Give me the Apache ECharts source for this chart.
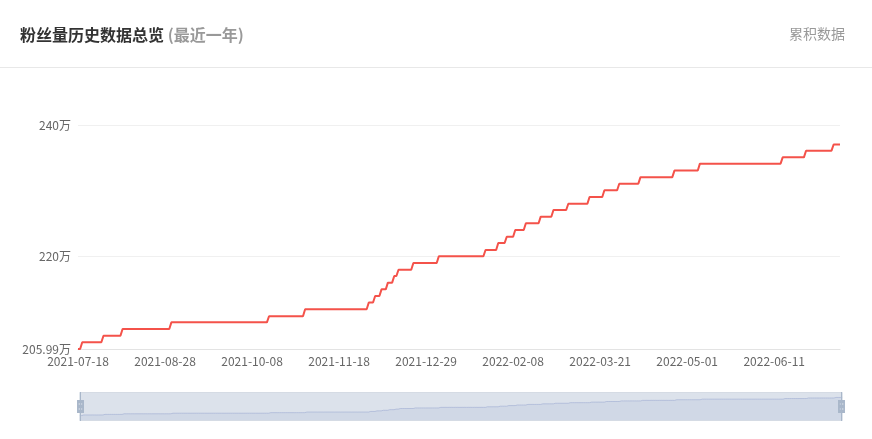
<!DOCTYPE html>
<html>
<head>
<meta charset="utf-8">
<script src="https://cdn.jsdelivr.net/npm/echarts@6/dist/echarts.min.js"></script>
<style>
html,body{margin:0;padding:0;background:#fff;}
#chart{width:872px;height:439px;}
</style>
</head>
<body>
<div id="chart"></div>
<script>
// Date range of the category axis (daily, last year)
const startDate = '2021-07-18';
const endDate = '2022-07-12';
// Days on which the follower count changed, and the new value (万)
const stepDates = ['2021-07-18','2021-07-20','2021-07-30','2021-08-08','2021-08-31','2021-10-16','2021-11-02',
  '2021-12-02','2021-12-05','2021-12-08','2021-12-11','2021-12-14','2021-12-16','2021-12-23','2022-01-04',
  '2022-01-26','2022-02-01','2022-02-05','2022-02-09','2022-02-14','2022-02-21','2022-02-27','2022-03-06',
  '2022-03-16','2022-03-23','2022-03-30','2022-04-09','2022-04-25','2022-05-07','2022-06-15','2022-06-26','2022-07-09'];
const stepValues = [205.99,207.01,208.01,209.03,210.04,210.96,212.02,
  213.05,214.04,215.05,216.06,217.07,218.03,219.05,220.07,
  221.02,222.08,223.04,224.06,225.08,226.08,227.09,228.05,
  229.07,230.09,231.09,232.08,233.08,234.13,235.09,236.10,237.04];
// Y-axis tick labels (万)
const yTicks = [205.99, 220, 240];

function fmt(d){
  const m = d.getUTCMonth()+1, day = d.getUTCDate();
  return d.getUTCFullYear()+'-'+(m<10?'0':'')+m+'-'+(day<10?'0':'')+day;
}
const categories = [];
for (let t = Date.parse(startDate+'T00:00:00Z'); t <= Date.parse(endDate+'T00:00:00Z'); t += 86400000) {
  categories.push(fmt(new Date(t)));
}
const values = [];
let si = 0;
categories.forEach(function(c){
  while (si + 1 < stepDates.length && stepDates[si+1] <= c) si++;
  values.push(stepValues[si]);
});

const FONT = '"Noto Sans CJK SC", "Noto Sans", sans-serif';
const handleIcon = 'path://M4.3,0H5.7V40H4.3Z' +
  'M0.2,11H9.8V29H0.2Z' +
  'M2.6,16V17.3H7.4V16Z' +
  'M2.6,22.7V24H7.4V22.7Z';
const chart = echarts.init(document.getElementById('chart'));
chart.setOption({
  animation: false,
  textStyle: {fontFamily: FONT},
  title: [{
    left: 20, top: 27, padding: 0,
    text: '{a|粉丝量历史数据总览}{b| (最近一年)}',
    textStyle: {
      rich: {
        a: {fontSize: 16, fontWeight: 'bold', color: '#333', fontFamily: FONT},
        b: {fontSize: 16, fontWeight: 'bold', color: '#999', fontFamily: FONT}
      }
    }
  }, {
    right: 27, top: 27, padding: 0,
    text: '累积数据',
    textStyle: {fontSize: 14, fontWeight: 'normal', color: '#999', fontFamily: FONT}
  }],
  graphic: [{
    type: 'rect', left: 0, top: 67,
    shape: {width: 872, height: 1},
    style: {fill: '#e8e8e8'}
  }],
  grid: {left: 78, right: 32, top: 125, bottom: 90},
  xAxis: {
    type: 'category',
    data: categories,
    boundaryGap: false,
    axisTick: {show: false},
    axisLine: {lineStyle: {color: '#e3e3e3'}},
    axisLabel: {interval: 40, color: '#666', fontSize: 12, fontFamily: FONT, margin: 6}
  },
  yAxis: {
    type: 'value',
    min: 'dataMin',
    max: 240,
    axisLine: {show: false},
    axisTick: {show: false, customValues: yTicks},
    splitLine: {lineStyle: {color: '#f0f0f0'}},
    axisLabel: {color: '#666', fontSize: 12, fontFamily: FONT, margin: 7,
      customValues: yTicks,
      formatter: function(v){ return v + '万'; }}
  },
  dataZoom: [{
    type: 'slider',
    left: 77, right: 32, top: 392, height: 29,
    start: 0, end: 100,
    showDetail: false,
    brushSelect: false,
    moveHandleSize: 0,
    borderColor: '#d5dbe4',
    backgroundColor: 'rgba(0,0,0,0)',
    fillerColor: 'rgba(167,183,204,0.4)',
    handleIcon: handleIcon,
    handleSize: '100%',
    handleStyle: {color: '#a9b7ca', borderWidth: 0},
    emphasis: {handleStyle: {color: '#a9b7ca', borderWidth: 0}},
    dataBackground: {
      lineStyle: {color: '#c3cad6', width: 0.5},
      areaStyle: {color: '#cdd4de', opacity: 0.7}
    }
  }],
  series: [{
    type: 'line',
    data: values,
    showSymbol: false,
    symbol: 'none',
    lineStyle: {color: '#f4524a', width: 2},
    itemStyle: {color: '#f4524a'}
  }]
});
</script>
</body>
</html>
